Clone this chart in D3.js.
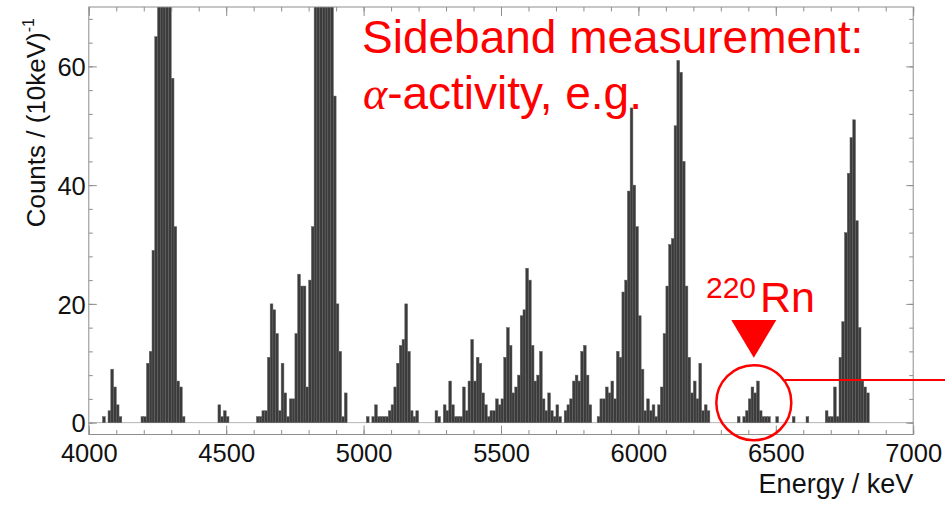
<!DOCTYPE html>
<html><head><meta charset="utf-8">
<script src="https://cdn.jsdelivr.net/npm/d3@7"></script>
<style>body{margin:0;background:#fff}svg{display:block}</style>
</head><body>
<svg id="c" width="945" height="505"></svg>
<script>
// ---- data: histogram, 10 keV bins starting at 4000 keV (one row = 100 keV) ----
const binStart = 4000;
const binWidth = 10;
const counts = [
  0,0,0,0,0,1,0,2,9,6,          // 4000
  3,1,0,0,0,0,0,0,0,1,          // 4100
  1,10,12,29,65,80,110,120,100,85, // 4200
  58,33,7,6,1,0,0,0,0,0,        // 4300
  0,0,0,0,0,0,0,3,1,2,          // 4400
  1,0,0,0,0,0,0,0,0,0,          // 4500
  0,1,1,2,2,11,20,19,15,2,      // 4600
  10,5,1,4,4,15,25,23,23,6,     // 4700
  24,33,75,95,110,120,115,100,80,55, // 4800
  20,12,1,5,0,0,0,0,0,0,        // 4900
  0,1,0,1,3,1,1,1,1,2,          // 5000
  3,6,10,13,14,20,12,2,1,2,     // 5100
  0,0,0,0,0,0,2,1,0,3,          // 5200
  2,7,3,1,1,1,6,2,7,14,         // 5300
  7,11,10,5,3,1,2,2,4,3,        // 5400
  4,11,16,13,5,6,8,18,19,26,    // 5500
  24,13,7,8,12,4,2,5,2,1,       // 5600
  3,1,0,2,3,4,7,8,7,12,         // 5700
  13,8,3,0,0,1,4,4,6,5,         // 5800
  7,4,12,11,22,24,39,53,40,33,  // 5900
  18,9,2,4,2,3,1,3,6,15,        // 6000
  23,30,31,50,61,59,44,23,11,5, // 6100
  7,4,10,2,3,2,0,0,0,0,         // 6200
  0,0,0,0,0,0,1,0,1,2,          // 6300
  4,6,5,7,2,1,1,1,0,0,          // 6400
  1,0,0,0,0,0,1,0,0,0,          // 6500
  0,1,0,0,0,0,0,0,2,1,          // 6600
  1,6,1,11,17,32,42,48,51,34,   // 6700
  16,7,6,5,0,0,0,0,0,0,         // 6800
  0,0,0,0,0,0,0,0,0,0           // 6900
];
const xMajorTicks = [4000,4500,5000,5500,6000,6500,7000];
const yMajorTicks = [0,20,40,60];
const xTitle = "Energy / keV";
const yTitle = "Counts / (10keV)";
const yTitleSup = "-1";
const noteLines = ["Sideband measurement:", "-activity, e.g."];
const isotopeMass = "220";
const isotopeName = "Rn";
const markEnergy = 6420;   // highlighted 220Rn peak
const markLevel = 3.35;

// ---- layout ----
const L = 88.8, R = 913.2, T = 7, B = 434.5;
const x = d3.scaleLinear().domain([4000, 7000]).range([L, R]);
const y = d3.scaleLinear().domain([-2, 70]).range([B, T]);
const frameCol = "#8e8e8e";
const red = "#ff0000";
const axisFont = "'Liberation Sans', Arial, sans-serif";

const svg = d3.select("#c");
svg.append("defs").append("clipPath").attr("id", "plot")
  .append("rect").attr("x", L).attr("y", T).attr("width", R - L).attr("height", B - T);

// zero line
svg.append("line")
  .attr("x1", x(4000)).attr("x2", x(7000)).attr("y1", y(0)).attr("y2", y(0))
  .attr("stroke", "#b4b4b4").attr("stroke-width", 1);

// bars
const bins = counts.map((c, i) => ({ e: binStart + i * binWidth, c })).filter(d => d.c > 0);
svg.append("g").attr("clip-path", "url(#plot)")
  .selectAll("rect").data(bins).join("rect")
  .attr("x", d => x(d.e))
  .attr("width", d => x(d.e + binWidth) - x(d.e))
  .attr("y", d => y(d.c))
  .attr("height", d => y(0) - y(d.c))
  .attr("fill", "#3b3b3b")
  .attr("stroke", "#626262")
  .attr("stroke-width", 0.5);

// axes
const xMinor = d3.range(4000, 7001, 100);
const yMinor = d3.range(0, 70, 4);
function styleAxis(sel) {
  sel.select(".domain").remove();
  sel.selectAll(".tick line").attr("stroke", frameCol).attr("stroke-width", 1);
}
const ax = svg.append("g");
ax.append("g").attr("transform", `translate(0,${B})`)
  .call(d3.axisBottom(x).tickValues(xMinor).tickSize(-4.5).tickFormat("")).call(styleAxis);
ax.append("g").attr("transform", `translate(0,${B})`)
  .call(d3.axisBottom(x).tickValues(xMajorTicks).tickSize(-9).tickFormat(d3.format("d")))
  .call(styleAxis)
  .call(g => g.selectAll("text").attr("y", 27.2).attr("dy", 0)
    .attr("font-family", axisFont).attr("font-size", 25.5).attr("fill", "#111"));
ax.append("g").attr("transform", `translate(0,${T})`)
  .call(d3.axisTop(x).tickValues(xMinor).tickSize(-4.5).tickFormat("")).call(styleAxis);
ax.append("g").attr("transform", `translate(0,${T})`)
  .call(d3.axisTop(x).tickValues(xMajorTicks).tickSize(-9).tickFormat("")).call(styleAxis);
ax.append("g").attr("transform", `translate(${L},0)`)
  .call(d3.axisLeft(y).tickValues(yMinor).tickSize(-4).tickFormat("")).call(styleAxis);
ax.append("g").attr("transform", `translate(${L},0)`)
  .call(d3.axisLeft(y).tickValues(yMajorTicks).tickSize(-8).tickFormat(d3.format("d")))
  .call(styleAxis)
  .call(g => g.selectAll("text").attr("x", -3).attr("dy", "0.36em")
    .attr("font-family", axisFont).attr("font-size", 25.5).attr("fill", "#111"));
ax.append("g").attr("transform", `translate(${R},0)`)
  .call(d3.axisRight(y).tickValues(yMinor).tickSize(-4).tickFormat("")).call(styleAxis);
ax.append("g").attr("transform", `translate(${R},0)`)
  .call(d3.axisRight(y).tickValues(yMajorTicks).tickSize(-7).tickFormat("")).call(styleAxis);

// frame
svg.append("rect").attr("x", L).attr("y", T).attr("width", R - L).attr("height", B - T)
  .attr("fill", "none").attr("stroke", frameCol).attr("stroke-width", 1);

// axis titles
svg.append("text").attr("x", R).attr("y", 492.5).attr("text-anchor", "end")
  .attr("font-family", axisFont).attr("font-size", 27).attr("fill", "#111")
  .text(xTitle);
const yt = svg.append("text").attr("transform", "translate(45,18) rotate(-90)")
  .attr("text-anchor", "end")
  .attr("font-family", axisFont).attr("font-size", 26).attr("fill", "#111");
yt.append("tspan").text(yTitle);
yt.append("tspan").attr("font-size", 16).attr("dy", -11).text(yTitleSup);

// red annotations
const note = svg.append("g").attr("font-family", "'Liberation Sans', Arial, sans-serif").attr("fill", red);
note.append("text").attr("x", 362).attr("y", 52.7).attr("font-size", 46).text(noteLines[0]);
const l2 = note.append("text").attr("x", 363).attr("y", 109.3).attr("font-size", 46);
l2.append("tspan").attr("font-family", "'Liberation Serif', 'DejaVu Serif', serif")
  .attr("font-style", "italic").text("\u03B1");
l2.append("tspan").text(noteLines[1]);
note.append("text").attr("x", 706).attr("y", 298.3).attr("font-size", 30).text(isotopeMass);
note.append("text").attr("x", 760).attr("y", 311.7).attr("font-size", 43).text(isotopeName);

const mx = x(markEnergy), my = y(markLevel);
svg.append("path")
  .attr("d", `M${mx - 22.5},320 L${mx + 22.5},320 L${mx},357.7 Z`)
  .attr("fill", red);
svg.append("circle").attr("cx", mx).attr("cy", my).attr("r", 37.5)
  .attr("fill", "none").attr("stroke", red).attr("stroke-width", 2.5);
svg.append("line").attr("x1", mx + 31).attr("x2", 945).attr("y1", 380).attr("y2", 380)
  .attr("stroke", red).attr("stroke-width", 2);
</script>
</body></html>
